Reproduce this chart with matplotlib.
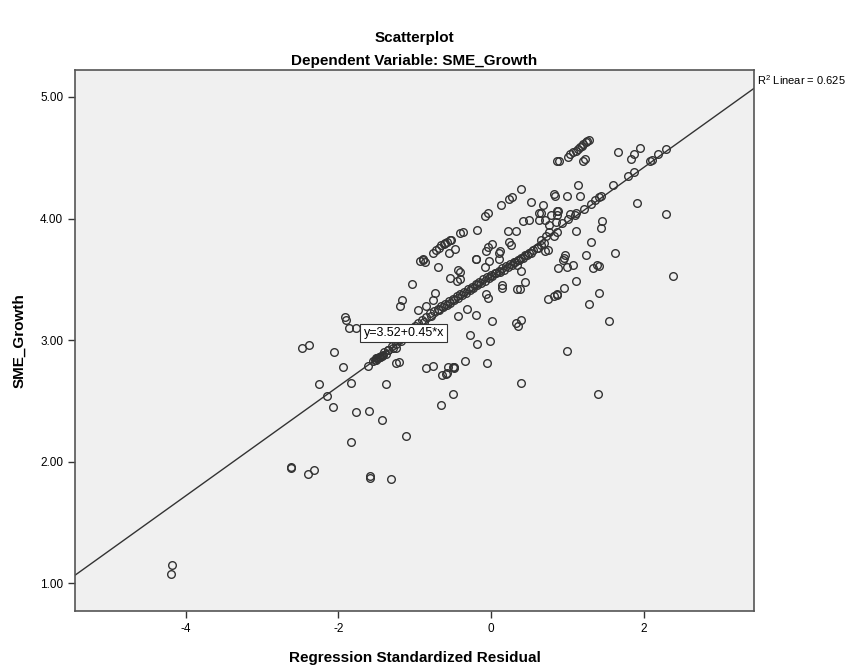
import matplotlib
matplotlib.use('Agg')
import matplotlib.pyplot as plt

plt.rcParams['font.family'] = ['Liberation Sans', 'DejaVu Sans']

# standardized residual (x) and SME_Growth (y)
resid = [
    -4.18, -4.19, -2.62, -2.62, -2.40, -2.32, -2.47, -2.39, -2.05, -1.86, -1.77, -1.91, -1.90,
    -1.94, -2.25, -2.15, -2.07, -1.83, -1.77, -1.83, -1.60, -1.43, -1.11, -1.59, -1.59, -1.31,
    -1.61, -1.37, -1.24, -1.21, -1.35, -1.24, -0.85, -0.76, -0.64, -0.59, -0.56, -0.48, -0.50,
    -0.49, -0.58, -0.50, -0.65, -0.34, -0.05, 0.40, 1.40, 0.99,
    -0.93, -1.03, -1.17, -1.19, -0.96, -0.85, -0.73, -0.76, -0.69, -0.54, -0.45, -0.41, -0.43,
    -0.41, -0.19, -0.02, 0.11, -0.08, 0.40, 0.34, 0.45, 0.14, 0.15, 0.34, 0.38, -0.06, -0.04,
    0.75, 0.83, 0.86, -0.31, -0.20, -0.43, 0.01, 0.33, 0.40, 0.35, -0.28, -0.18, -0.01,
    0.87, 0.40, 0.27, 0.24, 0.13, 0.53, 0.82, 0.68, -0.04, -0.08, 0.63, 0.66, 0.79, 0.86,
    0.42, 0.50, 0.63, 0.71, 0.76, 0.85, -0.18, 0.22, 0.33, -0.37, -0.41,
    -0.52, -0.57, -0.62, -0.68, -0.76, -0.89, -0.47, -0.55, -0.89, -0.86, -0.72, -0.65, -0.60, -0.54,
    -0.04, 0.01, -0.06, 0.10, 0.12, 0.24, 0.26, 0.66, 0.72, 0.76, 0.82, 0.86, 0.71, 0.75, -0.20,
    1.28, 1.25, 1.21, 1.17, 1.14, 1.08, 1.04, 1.01, 1.23, 1.21, 0.89, 1.26, 1.19, 1.11,
    1.67, 1.88, 1.95, 1.83, 2.08, 2.11, 2.19, 2.29, 1.80, 1.87, 1.60, 1.14,
    0.84, 0.99, 1.17, 1.41, 1.44, 1.36, 1.31, 1.22, 1.12, 1.04, 0.88, 1.10, 1.01, 0.93, 0.86,
    1.91, 2.29, 1.45, 1.44, 1.12, 1.31, 0.97, 1.25, 1.62, 0.96,
    0.88, 0.99, 1.08, 0.95, 1.34, 1.39, 1.41, 1.12, 0.96, 0.86, 1.41, 1.29, 2.38, 1.55,
    # dense band along the fit line
    -1.55, -1.52, -1.50, -1.48, -1.46, -1.44, -1.42, -1.40, -1.35, -1.30, -1.25, -1.20, -1.15,
    -1.10, -1.05, -1.00, -0.95, -0.90, -0.85, -0.80, -0.75, -0.70, -0.65, -0.60, -0.55, -0.50,
    -0.45, -0.40, -0.35, -0.30, -0.25, -0.20, -0.15, -0.10, -0.05, 0.00, 0.05, 0.10, 0.15,
    0.20, 0.25, 0.30, 0.35, 0.40, 0.45, 0.50, 0.55, 0.60, 0.65, 0.70,
    -1.51, -1.47, -1.43, -1.38, -1.28, -1.18, -1.08, -0.98, -0.88, -0.78, -0.68, -0.58, -0.48,
    -0.38, -0.28, -0.18, -0.08, 0.02, 0.12, 0.22, 0.32, 0.42, 0.52, 0.62,
    -1.49, -1.45, -0.63, -0.53, -0.43, -0.33, -0.23, -0.13, -0.03, 0.07, 0.17, 0.27, 0.37, 0.47,
]
growth = [
    1.15, 1.08, 1.96, 1.95, 1.90, 1.93, 2.94, 2.96, 2.90, 3.10, 3.10, 3.19, 3.17,
    2.78, 2.64, 2.54, 2.45, 2.65, 2.41, 2.16, 2.42, 2.34, 2.21, 1.88, 1.87, 1.86,
    2.79, 2.64, 2.81, 2.82, 2.92, 2.94, 2.77, 2.79, 2.71, 2.72, 2.78, 2.78, 2.78,
    2.77, 2.73, 2.56, 2.47, 2.83, 2.81, 2.65, 2.56, 2.91,
    3.65, 3.46, 3.33, 3.28, 3.25, 3.28, 3.39, 3.33, 3.60, 3.51, 3.49, 3.50, 3.58,
    3.56, 3.67, 3.65, 3.67, 3.60, 3.57, 3.62, 3.48, 3.45, 3.43, 3.42, 3.42, 3.38, 3.35,
    3.34, 3.36, 3.38, 3.26, 3.21, 3.20, 3.16, 3.14, 3.17, 3.12, 3.04, 2.97, 2.99,
    4.47, 4.24, 4.18, 4.16, 4.11, 4.14, 4.20, 4.11, 4.05, 4.02, 4.05, 4.05, 4.03, 4.06,
    3.98, 3.99, 3.99, 3.99, 3.95, 3.97, 3.91, 3.90, 3.90, 3.89, 3.88,
    3.82, 3.81, 3.79, 3.76, 3.72, 3.67, 3.75, 3.72, 3.66, 3.64, 3.74, 3.78, 3.80, 3.82,
    3.77, 3.79, 3.73, 3.72, 3.73, 3.81, 3.78, 3.82, 3.86, 3.89, 3.86, 3.89, 3.73, 3.74, 3.67,
    4.65, 4.63, 4.61, 4.59, 4.57, 4.55, 4.53, 4.51, 4.49, 4.47, 4.47, 4.64, 4.60, 4.56,
    4.55, 4.53, 4.58, 4.49, 4.47, 4.48, 4.53, 4.57, 4.35, 4.38, 4.28, 4.28,
    4.19, 4.19, 4.19, 4.18, 4.19, 4.15, 4.12, 4.08, 4.05, 4.04, 4.06, 4.03, 4.00, 3.96, 4.03,
    4.13, 4.04, 3.98, 3.92, 3.90, 3.81, 3.70, 3.70, 3.72, 3.68,
    3.59, 3.60, 3.62, 3.66, 3.59, 3.62, 3.61, 3.49, 3.43, 3.37, 3.39, 3.30, 3.53, 3.16,
    2.83, 2.84, 2.85, 2.85, 2.86, 2.87, 2.88, 2.90, 2.92, 2.95, 2.97, 3.00, 3.03,
    3.06, 3.09, 3.12, 3.14, 3.17, 3.19, 3.22, 3.24, 3.26, 3.28, 3.30, 3.32, 3.34,
    3.36, 3.38, 3.40, 3.42, 3.44, 3.46, 3.48, 3.50, 3.52, 3.54, 3.55, 3.57, 3.59,
    3.61, 3.63, 3.64, 3.66, 3.68, 3.70, 3.72, 3.74, 3.76, 3.78, 3.80,
    2.84, 2.86, 2.87, 2.89, 2.94, 2.99, 3.05, 3.10, 3.15, 3.20, 3.25, 3.29, 3.33,
    3.37, 3.41, 3.45, 3.49, 3.53, 3.56, 3.60, 3.64, 3.68, 3.72, 3.76,
    2.85, 2.86, 3.27, 3.31, 3.35, 3.39, 3.43, 3.47, 3.51, 3.55, 3.58, 3.62, 3.66, 3.70,
]

intercept = 3.52
slope = 0.45
r2 = 0.625
x_ticks = [-4, -2, 0, 2]
y_ticks = [1.0, 2.0, 3.0, 4.0, 5.0]

fig = plt.figure(figsize=(8.62, 6.69), dpi=100)
ax = fig.add_axes([0.087, 0.087, 0.788, 0.808])
ax.set_facecolor('#f0f0f0')

ax.plot(resid, growth, 'o', markersize=5.5, markerfacecolor='none',
        markeredgecolor='#333333', markeredgewidth=1.0)

x_lo, x_hi = -5.45, 3.45
ax.plot([x_lo, x_hi], [intercept + slope * x_lo, intercept + slope * x_hi],
        color='#333333', linewidth=1)
ax.set_xlim(x_lo, x_hi)
ax.set_ylim(0.775, 5.22)

ax.set_xticks(x_ticks)
ax.set_xticklabels([str(t) for t in x_ticks])
ax.set_yticks(y_ticks)
ax.set_yticklabels(['%.2f' % t for t in y_ticks])
ax.tick_params(direction='out', length=5, width=1, labelsize=8.5, color='#333333')
for sp in ax.spines.values():
    sp.set_color('#555555')
    sp.set_linewidth(1.2)

ax.text(-1.67, 3.06, 'y=3.52+0.45*x', fontsize=9, va='center', ha='left',
        bbox=dict(boxstyle='square,pad=0.25', facecolor='white', edgecolor='#333333', linewidth=0.8))
fig.text(757 / 862, 1 - 80 / 669, '$\\mathregular{R^2}$ Linear = %.3f' % r2,
         fontsize=8, va='center', ha='left')

fig.text(0.5 * (75 + 754) / 862, 1 - 38 / 669, 'Scatterplot', fontsize=11,
         fontweight='bold', ha='center', va='center')
fig.text(0.5 * (75 + 754) / 862, 1 - 61 / 669, 'Dependent Variable: SME_Growth',
         fontsize=11, fontweight='bold', ha='center', va='center')
ax.set_xlabel('Regression Standardized Residual', fontsize=11, fontweight='bold', labelpad=12)
ax.set_ylabel('SME_Growth', fontsize=11, fontweight='bold', labelpad=10)

fig.savefig('out.png', dpi=100)
